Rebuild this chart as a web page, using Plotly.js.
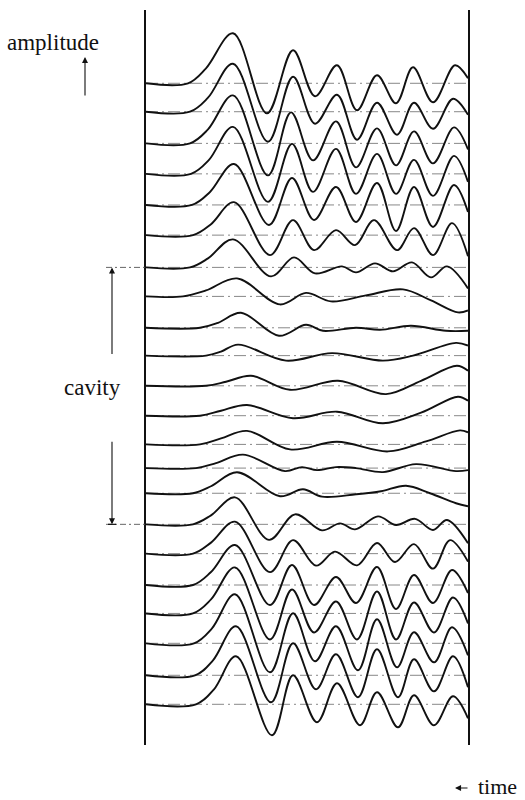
<!DOCTYPE html>
<html>
<head>
<meta charset="utf-8">
<script src="https://cdn.plot.ly/plotly-3.0.1.min.js"></script>
<style>html,body{margin:0;padding:0;background:#fff;}</style>
</head>
<body>
<div id="chart" style="width:525px;height:800px;"></div>
<script>
// Receiver positions down the borehole (station units, 0 = top receiver)
const depth = [0, 0.96, 2.03, 3.06, 4.11, 5.13, 6.22, 7.2, 8.26, 9.2, 10.22,
               11.23, 12.2, 13.0, 13.85, 14.9, 15.89, 16.95, 17.91, 18.92, 20.0, 20.98];
const cavityTop = 6.22;
const cavityBottom = 14.9;

// Picked waveform points per receiver: [time (ms), amplitude]
const tr01 = [[0,0],[42,0],[60,15],[87,50],[121,-30],[147,33],[169,-13],[191,18],[211,-27],[231,8],[250,-20],[267,16],[287,-19],[309,18],[322,5]];
const tr02 = [[0,0],[44,0],[62,14],[87,48],[122,-30],[147,35],[169,-12],[191,17],[211,-28],[231,9],[251,-23],[268,9],[287,-17],[307,13],[322,-3]];
const tr03 = [[0,0],[44,0],[62,14],[87,48],[122,-32],[145,31],[167,-17],[190,22],[210,-24],[231,15],[250,-22],[268,12],[287,-20],[308,16],[322,-6]];
const tr04 = [[0,0],[45,0],[63,14],[87,47],[122,-28],[146,30],[167,-18],[190,25],[210,-20],[231,20],[250,-20],[268,14],[287,-22],[308,18],[322,-8]];
const tr05 = [[0,0],[46,0],[64,13],[88,41],[123,-20],[146,27],[168,-15],[190,18],[210,-17],[231,22],[250,-26],[268,18],[287,-22],[308,20],[322,-7]];
const tr06 = [[0,0],[47,0],[65,11],[88,33],[124,-20],[147,15],[168,-15],[190,5],[209,-10],[228,15],[251,-15],[268,7],[287,-20],[306,12],[322,-21]];
const tr07 = [[0,0],[44,0],[62,9],[87,28],[125,-9],[148,10],[169,-6],[196,1],[210,-5],[229,4],[247,-4],[266,5],[285,-10],[301,1],[322,-21]];
const tr08 = [[0,0],[37,0],[60,6],[91,18],[134,-8],[160,3.5],[185,-5],[220,1],[257,7],[285,-4],[312,-16],[322,-14]];
const tr09 = [[0,0],[54,0],[72,5],[95,15],[133,-8],[160,3],[177,-3],[210,0],[234,-2],[265,2],[300,-3],[322,-3]];
const tr10 = [[0,0],[60,0],[75,4],[92,11],[140,-5],[186,2.5],[237,-5],[267,0],[310,12.7],[322,10]];
const tr11 = [[0,0],[60,0],[80,4],[105,10],[144,-4],[192,5],[240,-8.3],[275,5],[311,20],[322,15]];
const tr12 = [[0,0],[54,0],[75,5],[101,10.7],[147,-2.5],[191,4],[237,-7.6],[275,3],[312,19],[322,15]];
const tr13 = [[0,0],[54,0],[75,6],[101,13.5],[144,-5],[191,2.6],[242,-7],[280,3],[314,14],[322,12]];
const tr14 = [[0,0],[50,0],[70,5],[97,13.5],[139,-3],[156,1],[171,-2],[190,1],[210,0],[237,-4],[270,4],[310,-3],[322,-2]];
const tr15 = [[0,0],[47,0],[65,7],[91,21],[134,-3],[157,4],[176,-3.4],[210,-1],[235,2],[260,7.5],[284,0],[310,-10],[322,-13]];
const tr16 = [[0,0],[47,0],[65,9],[89,27],[123,-15.5],[149,10],[176,-6],[194,1],[209,-5],[232,8],[250,-0.7],[269,5.5],[287,-5.7],[301,4.3],[322,-19]];
const tr17 = [[0,0],[47,0],[65,11],[89,32],[124,-18.5],[147,13.5],[170,-12],[189,2],[211,-11.7],[231,10.7],[249,-8.4],[268,9.5],[287,-15],[304,13.5],[322,-8]];
const tr18 = [[0,0],[47,0],[65,13],[89,40],[124,-20],[146,20],[168,-20],[190,8],[210,-18],[231,18],[250,-24],[268,10],[287,-18],[306,15],[322,-8]];
const tr19 = [[0,0],[47,0],[65,14],[89,46],[124,-26],[146,24],[168,-19],[190,12],[211,-26],[231,22],[250,-26],[268,11],[288,-19],[307,16],[322,-10]];
const tr20 = [[0,0],[48,0],[66,15],[89,49],[124,-29],[147,30],[169,-18],[190,17],[212,-27],[231,24],[251,-24],[268,11],[288,-19],[306,16],[322,-12]];
const tr21 = [[0,0],[49,0],[67,15],[90,49],[125,-27],[147,32],[170,-14],[190,21],[212,-22],[231,26],[252,-22],[268,16],[288,-16],[307,19],[322,-12]];
const tr22 = [[0,0],[50,0],[68,15],[90,48],[126,-31],[147,29],[171,-18],[191,21],[214,-21],[231,12],[252,-23],[268,9],[288,-21],[307,8],[322,-14]];

const records = [tr01,tr02,tr03,tr04,tr05,tr06,tr07,tr08,tr09,tr10,tr11,
                 tr12,tr13,tr14,tr15,tr16,tr17,tr18,tr19,tr20,tr21,tr22];

const timeRange = [0, 322];
const GAIN = 1 / 29.6;   // amplitude units per station spacing
const SERIF = '"Liberation Serif", "DejaVu Serif", serif';

const data = [];

// zero lines of each record
depth.forEach(d => {
  data.push({
    x: timeRange, y: [-d, -d], mode: 'lines', hoverinfo: 'skip',
    line: {color: '#6a6a6a', width: 0.8, dash: '12px,4px,2px,4px'}
  });
});

// the seismograms
records.forEach((rec, i) => {
  data.push({
    x: rec.map(p => p[0]),
    y: rec.map(p => -depth[i] + p[1] * GAIN),
    mode: 'lines',
    line: {color: '#111', width: 1.9, shape: 'spline', smoothing: 1}
  });
});

const plotTop = 10, plotBottom = 745, plotLeft = 146, plotRight = 468;
const px = v => (v - plotLeft) / (plotRight - plotLeft);
const py = v => (plotBottom - v) / (plotBottom - plotTop);
const yTop = 2.476, yBottom = -22.355;

const label = (text, x, y, size) => ({
  text: text, xref: 'paper', yref: 'paper', x: px(x), y: py(y),
  xanchor: 'center', yanchor: 'middle', showarrow: false,
  font: {family: SERIF, size: size || 23, color: '#111'}
});

const arrow = (x, y, yref, ax, ay) => ({
  text: '', xref: 'paper', yref: yref, x: px(x), y: yref === 'paper' ? py(y) : y,
  showarrow: true, ax: ax, ay: ay, arrowhead: 2, arrowsize: 1.1, arrowwidth: 1.1,
  arrowcolor: '#111', standoff: 0
});

const layout = {
  width: 525, height: 800,
  margin: {l: plotLeft, r: 525 - plotRight, t: plotTop, b: 800 - plotBottom},
  paper_bgcolor: '#fff', plot_bgcolor: '#fff',
  showlegend: false,
  xaxis: {range: timeRange, showgrid: false, zeroline: false, showline: false,
          showticklabels: false, ticks: ''},
  yaxis: {range: [yBottom, yTop], showgrid: false, zeroline: false,
          showline: true, mirror: true, linecolor: '#111', linewidth: 1.8,
          showticklabels: false, ticks: ''},
  shapes: [
    {type: 'line', xref: 'paper', yref: 'y', x0: px(106), x1: 0,
     y0: -cavityTop, y1: -cavityTop, line: {color: '#555', width: 0.9, dash: '6px,3px,2px,3px'}},
    {type: 'line', xref: 'paper', yref: 'y', x0: px(106), x1: 0,
     y0: -cavityBottom, y1: -cavityBottom, line: {color: '#555', width: 0.9, dash: '6px,3px,2px,3px'}},
    {type: 'line', xref: 'paper', yref: 'y', x0: px(108), x1: px(116),
     y0: -cavityBottom, y1: -cavityBottom, line: {color: '#111', width: 1.2}}
  ],
  annotations: [
    label('amplitude', 53, 42),
    arrow(85, 57, 'paper', 0, 40),
    label('cavity', 92, 388),
    arrow(112, -cavityTop, 'y', 0, 88),
    arrow(112, -cavityBottom, 'y', 0, -84),
    Object.assign(label('time', 476, 786, 22), {xanchor: 'left'}),
    arrow(455, 788, 'paper', 14, 0)
  ]
};

Plotly.newPlot('chart', data, layout, {staticPlot: true, displayModeBar: false});
</script>
</body>
</html>
